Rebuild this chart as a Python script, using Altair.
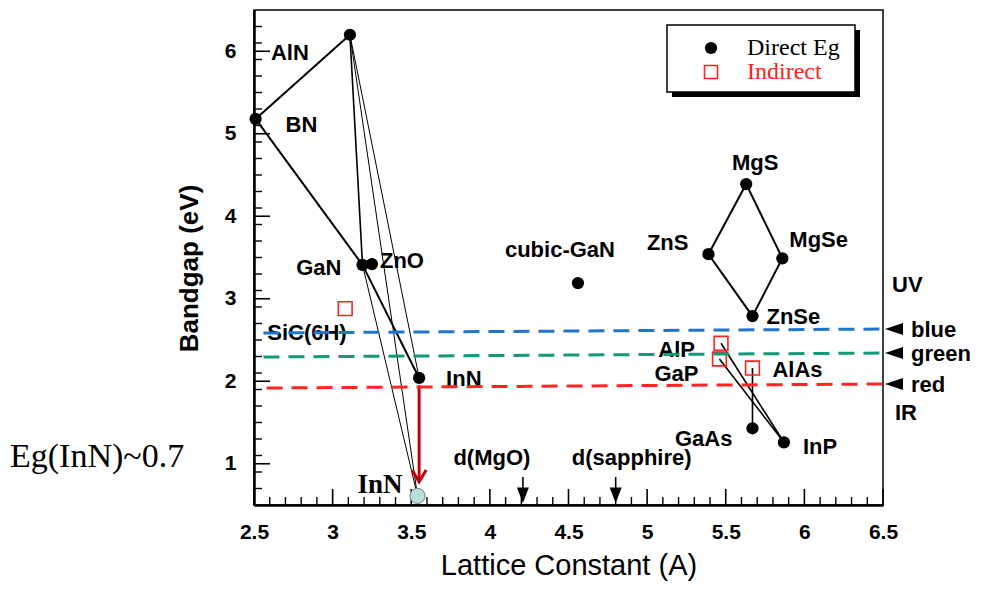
import altair as alt
import pandas as pd

# ---------------- data ----------------
direct_names = ["AlN", "BN", "GaN", "ZnO", "InN", "cubic-GaN", "MgS", "ZnS", "MgSe", "ZnSe", "GaAs", "InP"]
direct_a = [3.11, 2.51, 3.19, 3.25, 3.55, 4.56, 5.63, 5.39, 5.86, 5.67, 5.67, 5.87]
direct_eg = [6.20, 5.18, 3.41, 3.42, 2.04, 3.19, 4.39, 3.54, 3.49, 2.79, 1.43, 1.26]

indirect_names = ["SiC(6H)", "AlP", "GaP", "AlAs"]
indirect_a = [3.08, 5.47, 5.46, 5.67]
indirect_eg = [2.88, 2.46, 2.27, 2.16]

new_inn_a = [3.54]
new_inn_eg = [0.61]

thick_links = [("BN", "AlN"), ("BN", "GaN"), ("GaN", "InN"),
               ("MgS", "ZnS"), ("ZnS", "ZnSe"), ("ZnSe", "MgSe"), ("MgSe", "MgS")]
medium_links = [("AlP", "InP"), ("GaP", "InP"), ("AlAs", "GaAs"), ("AlN", "GaN")]
thin_links = [("AlN", "InN"), ("AlN", "InN*"), ("GaN", "InN*")]

band_names = ["blue", "green", "red"]
band_a_start = [2.56, 2.56, 2.58]
band_a_end = [6.5, 6.5, 6.5]
band_eg_start = [2.585, 2.294, 1.918]
band_eg_end = [2.633, 2.342, 1.967]
band_colors = ["#1f74cc", "#129a78", "#ff2424"]

substrate_names = ["d(MgO)", "d(sapphire)"]
substrate_a = [4.21, 4.80]

x_major = [2.5, 3.0, 3.5, 4.0, 4.5, 5.0, 5.5, 6.0, 6.5]
y_major = [1, 2, 3, 4, 5, 6]
x_minor = [round(2.5 + 0.1 * i, 2) for i in range(41) if i % 5 != 0]
y_minor = [round(0.5 + 0.2 * i, 2) for i in range(1, 30) if abs((0.5 + 0.2 * i) - round(0.5 + 0.2 * i)) > 1e-6]

# InN shift annotation (old gap -> new gap)
arrow_top_eg = 1.95
arrow_tip_eg = 0.78

# ---------------- helpers ----------------
W, H = 629, 495
coords = {}
for n, a, e in zip(direct_names, direct_a, direct_eg):
    coords[n] = (a, e)
for n, a, e in zip(indirect_names, indirect_a, indirect_eg):
    coords[n] = (a, e)
coords["InN*"] = (new_inn_a[0], new_inn_eg[0])

SANS = "Liberation Sans"
SERIF = "Liberation Serif"

xscale = alt.Scale(domain=[2.5, 6.5], nice=False, zero=False)
yscale = alt.Scale(domain=[0.5, 6.5], nice=False, zero=False)

x_axis = alt.Axis(values=x_major, format=".1~f", ticks=False, grid=False, domainWidth=2.5, domainColor="black",
                  labelFont=SANS, labelFontSize=21, labelFontWeight="bold", labelColor="black",
                  labelPadding=16, labelFlush=False, labelOverlap=False,
                  title="Lattice Constant (A)", titleFont=SANS, titleFontSize=29, titleFontWeight="normal",
                  titleColor="black", titlePadding=9)
y_axis = alt.Axis(values=y_major, format="d", ticks=False, grid=False, domainWidth=2.5, domainColor="black",
                  labelFont=SANS, labelFontSize=21, labelFontWeight="bold", labelColor="black",
                  labelPadding=18, labelFlush=False, labelOverlap=False,
                  title="Bandgap (eV)", titleFont=SANS, titleFontSize=26, titleFontWeight="bold",
                  titleColor="black", titleAngle=270, titleX=-57, titleY=258, titleBaseline="alphabetic",
                  titleAlign="center")


def X(f):
    return alt.X(f, type="quantitative", scale=xscale, axis=x_axis)


def Y(f):
    return alt.Y(f, type="quantitative", scale=yscale, axis=y_axis)


layers = []

# inward ticks
layers.append(alt.Chart(pd.DataFrame({"v": x_major})).mark_rule(color="black", strokeWidth=1.6).encode(
    x=X("v"), y=alt.value(H), y2=alt.value(H - 16)))
layers.append(alt.Chart(pd.DataFrame({"v": x_minor})).mark_rule(color="black", strokeWidth=1.4).encode(
    x=X("v"), y=alt.value(H), y2=alt.value(H - 8)))
layers.append(alt.Chart(pd.DataFrame({"v": y_major})).mark_rule(color="black", strokeWidth=1.6).encode(
    y=Y("v"), x=alt.value(0), x2=alt.value(16)))
layers.append(alt.Chart(pd.DataFrame({"v": y_minor})).mark_rule(color="black", strokeWidth=1.4).encode(
    y=Y("v"), x=alt.value(0), x2=alt.value(8)))


def link_df(pairs):
    return pd.DataFrame([{"x": coords[p][0], "y": coords[p][1], "x2": coords[q][0], "y2": coords[q][1]}
                         for p, q in pairs])


for pairs, w in [(thin_links, 1.0), (medium_links, 1.6), (thick_links, 2.0)]:
    layers.append(alt.Chart(link_df(pairs)).mark_rule(color="black", strokeWidth=w).encode(
        x=X("x"), y=Y("y"), x2="x2", y2="y2"))

# red arrow (InN gap revision)
arrow_df = pd.DataFrame({"a": [coords["InN"][0]], "top": [arrow_top_eg], "tip": [arrow_tip_eg]})
layers.append(alt.Chart(arrow_df).mark_rule(color="#c4000a", strokeWidth=3).encode(
    x=X("a"), y=Y("top"), y2="tip"))
layers.append(alt.Chart(arrow_df).mark_point(shape="M-1,-1.7L0,0L1,-1.7", filled=False, color="#c4000a",
                                             strokeWidth=3, size=196, opacity=1).encode(
    x=X("a"), y=Y("tip")))

# substrate arrows
sub_df = pd.DataFrame({"name": substrate_names, "a": substrate_a})
layers.append(alt.Chart(sub_df).mark_rule(color="black", strokeWidth=1.6).encode(
    x=X("a"), y=alt.value(H - 28), y2=alt.value(H - 14)))
layers.append(alt.Chart(sub_df).mark_point(shape="M-1,-2.6L1,-2.6L0,0Z", filled=True, color="black",
                                           size=144, opacity=1).encode(
    x=X("a"), y=alt.value(H - 2)))
for name, dx in [("d(MgO)", -31), ("d(sapphire)", 16)]:
    layers.append(alt.Chart(sub_df).transform_filter(alt.datum.name == name).mark_text(
        font=SANS, fontSize=22, fontWeight="bold", color="black", align="center", baseline="middle",
        dx=dx).encode(x=X("a"), y=alt.value(H - 47), text="name:N"))

# points
direct_df = pd.DataFrame({"name": direct_names, "a": direct_a, "eg": direct_eg})
layers.append(alt.Chart(direct_df).mark_point(filled=True, color="black", size=150, shape="circle",
                                              opacity=1).encode(x=X("a"), y=Y("eg")))

indirect_df = pd.DataFrame({"name": indirect_names, "a": indirect_a, "eg": indirect_eg})
layers.append(alt.Chart(indirect_df).mark_point(filled=False, color="#ff2020", size=190, shape="square",
                                                strokeWidth=1.6, opacity=1).encode(
    x=X("a"), y=Y("eg")))

new_df = pd.DataFrame({"name": ["InN"], "a": new_inn_a, "eg": new_inn_eg})
layers.append(alt.Chart(new_df).mark_point(filled=True, fill="#b6e0e0", stroke="#808080", strokeWidth=1,
                                           size=230, shape="circle", opacity=1).encode(
    x=X("a"), y=Y("eg")))

# point labels
lab_rows = []
for n, (a, e) in coords.items():
    lab_rows.append({"key": n, "text": n.replace("*", ""), "a": a, "eg": e})
lab_df = pd.DataFrame(lab_rows)
label_style = {
    "AlN": (-79, 18, "left"), "BN": (30, 6, "left"), "GaN": (-21, 3, "right"), "ZnO": (8, -3, "left"),
    "InN": (27, 1, "left"), "cubic-GaN": (-18, -33, "center"), "MgS": (9, -21, "center"),
    "ZnS": (-20, -11, "right"), "MgSe": (7, -18, "left"), "ZnSe": (14, 1, "left"),
    "GaAs": (-20, 11, "right"), "InP": (19, 5, "left"), "SiC(6H)": (-78, 24, "left"),
    "AlP": (-26, 7, "right"), "GaP": (-21, 15, "right"), "AlAs": (20, 2, "left"),
}
for key, (dx, dy, al) in label_style.items():
    layers.append(alt.Chart(lab_df).transform_filter(alt.datum.key == key).mark_text(
        font=SANS, fontSize=22, fontWeight="bold", color="black", align=al, baseline="middle",
        dx=dx, dy=dy).encode(x=X("a"), y=Y("eg"), text="text:N"))
layers.append(alt.Chart(lab_df).transform_filter(alt.datum.key == "InN*").mark_text(
    font=SERIF, fontSize=27, fontWeight="bold", color="black", align="right", baseline="middle",
    dx=-15, dy=-11).encode(x=X("a"), y=Y("eg"), text="text:N"))

# colour bands (dashed)
band_df = pd.DataFrame({"band": band_names, "a0": band_a_start, "a1": band_a_end,
                        "e0": band_eg_start, "e1": band_eg_end})
band_color = alt.Color("band:N", scale=alt.Scale(domain=band_names, range=band_colors), legend=None)
layers.append(alt.Chart(band_df).mark_rule(strokeWidth=3, strokeDash=[16, 9]).encode(
    x=X("a0"), y=Y("e0"), x2="a1", y2="e1", color=band_color))
layers.append(alt.Chart(band_df).mark_point(shape="M0.33,0L3.33,-1L3.33,1Z", filled=True, color="black",
                                            size=144, opacity=1).encode(x=X("a1"), y=Y("e1")))
layers.append(alt.Chart(band_df).mark_text(font=SANS, fontSize=22, fontWeight="bold", color="black",
                                           align="left", baseline="middle", dx=28, dy=1).encode(
    x=X("a1"), y=Y("e1"), text="band:N"))

# region labels outside the frame
for t, px, py in [("UV", 638, 275), ("IR", 641, 403)]:
    layers.append(alt.Chart(pd.DataFrame({"t": [t]})).mark_text(
        font=SANS, fontSize=22, fontWeight="bold", color="black", align="left", baseline="middle").encode(
        x=alt.value(px), y=alt.value(py), text="t:N"))
layers.append(alt.Chart(pd.DataFrame({"t": ["Eg(InN)~0.7"]})).mark_text(
    font=SERIF, fontSize=34, color="black", align="left", baseline="alphabetic").encode(
    x=alt.value(-244), y=alt.value(457), text="t:N"))

# legend box
one = pd.DataFrame({"k": [0]})
layers.append(alt.Chart(one).mark_rect(color="black").encode(
    x=alt.value(418), x2=alt.value(606), y=alt.value(20), y2=alt.value(87)))
layers.append(alt.Chart(one).mark_rect(fill="white", stroke="black", strokeWidth=1.5).encode(
    x=alt.value(413), x2=alt.value(601), y=alt.value(15), y2=alt.value(82)))
layers.append(alt.Chart(one).mark_point(filled=True, color="black", size=150, shape="circle", opacity=1).encode(
    x=alt.value(457), y=alt.value(38)))
layers.append(alt.Chart(one).mark_point(filled=False, color="#ff2020", size=170, shape="square",
                                        strokeWidth=1.5, opacity=1).encode(x=alt.value(457), y=alt.value(62)))
for t, py, col in [("Direct Eg", 38, "black"), ("Indirect", 62, "#ff2020")]:
    layers.append(alt.Chart(pd.DataFrame({"t": [t]})).mark_text(
        font=SERIF, fontSize=24, color=col, align="left", baseline="middle").encode(
        x=alt.value(493), y=alt.value(py), text="t:N"))

chart = alt.layer(*layers).properties(
    width=W, height=H,
    padding={"left": 246, "top": 2, "right": 90, "bottom": 78},
    autosize=alt.AutoSizeParams(type="none"),
    background="white",
).configure_view(stroke="black", strokeWidth=1.5)

chart.save("out.html", embed_options={"renderer": "svg", "actions": False})
